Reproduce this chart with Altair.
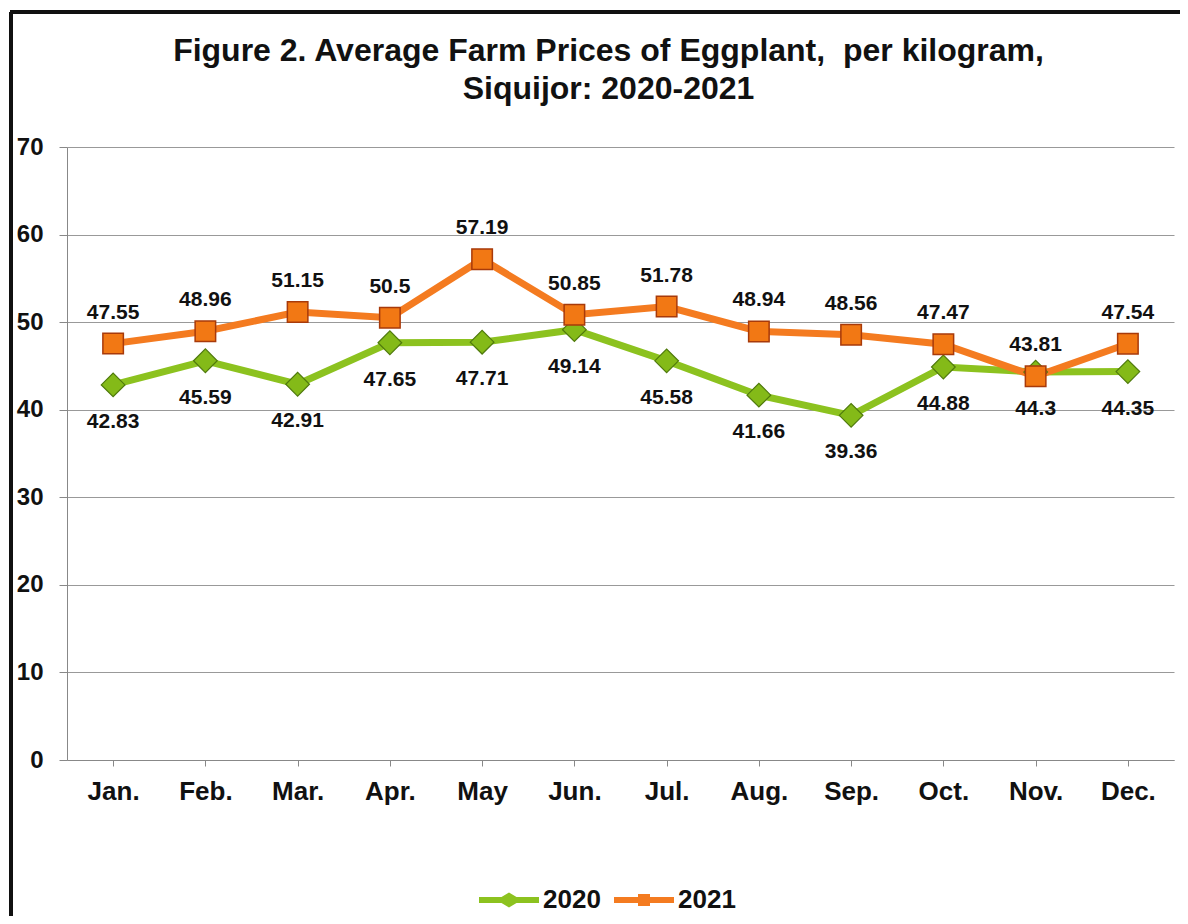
import altair as alt
import pandas as pd

months = ["Jan.", "Feb.", "Mar.", "Apr.", "May", "Jun.", "Jul.", "Aug.", "Sep.", "Oct.", "Nov.", "Dec."]
prices_2020 = [42.83, 45.59, 42.91, 47.65, 47.71, 49.14, 45.58, 41.66, 39.36, 44.88, 44.3, 44.35]
prices_2021 = [47.55, 48.96, 51.15, 50.5, 57.19, 50.85, 51.78, 48.94, 48.56, 47.47, 43.81, 47.54]
years = ["2020", "2021"]
y_ticks = [0, 10, 20, 30, 40, 50, 60, 70]

rows = []
for m, a, b in zip(months, prices_2020, prices_2021):
    rows.append({"month": m, "year": "2020", "price": a, "label": f"{a:g}"})
    rows.append({"month": m, "year": "2021", "price": b, "label": f"{b:g}"})
df = pd.DataFrame(rows)

GREEN = "#8cc21f"
ORANGE = "#f47b20"
FONT = "Liberation Sans"

x_enc = alt.X("month:N", sort=months, scale=alt.Scale(paddingInner=0, paddingOuter=0),
              axis=alt.Axis(title=None, bandPosition=0, labelFont=FONT, labelFontSize=26,
                            labelFontWeight="bold", labelColor="#111", labelAngle=0,
                            labelPadding=12, tickSize=6, tickColor="#888", domainColor="#888",
                            grid=False))
y_enc = alt.Y("price:Q", scale=alt.Scale(domain=[0, 70], nice=False),
              axis=alt.Axis(title=None, values=y_ticks, labelFont=FONT, labelFontSize=24,
                            labelFontWeight="bold", labelColor="#111", tickSize=8,
                            tickColor="#888", domainColor="#888", gridColor="#999",
                            gridWidth=1.2, labelPadding=16))

base = alt.Chart(df)
d20 = base.transform_filter(alt.datum.year == "2020")
d21 = base.transform_filter(alt.datum.year == "2021")

line20 = d20.mark_line(strokeWidth=7, color=GREEN).encode(x=x_enc, y=y_enc)
line21 = d21.mark_line(strokeWidth=7, color=ORANGE).encode(x=x_enc, y=y_enc)

pts20 = d20.mark_point(
    shape="diamond", filled=True, size=560, color="#84ba18", stroke="#4f7a0c", strokeWidth=1.2,
    opacity=1
).encode(x=x_enc, y=y_enc)
pts21 = d21.mark_point(
    shape="square", filled=True, size=420, color="#f27814", stroke="#a83a0a", strokeWidth=1.5,
    opacity=1
).encode(x=x_enc, y=y_enc)

lab20 = d20.mark_text(
    font=FONT, fontSize=21, fontWeight="bold", color="#111", dy=37, baseline="middle"
).encode(x=x_enc, y=y_enc, text="label:N")
lab21 = d21.mark_text(
    font=FONT, fontSize=21, fontWeight="bold", color="#111", dy=-31, baseline="middle"
).encode(x=x_enc, y=y_enc, text="label:N")

# legend layer: line + marker symbols
path_diamond = "M-3,-0.3 L-0.75,-0.3 L0,-0.75 L0.75,-0.3 L3,-0.3 L3,0.3 L0.75,0.3 L0,0.75 L-0.75,0.3 L-3,0.3 Z"
path_square = "M-3,-0.3 L-0.6,-0.3 L-0.6,-0.6 L0.6,-0.6 L0.6,-0.3 L3,-0.3 L3,0.3 L0.6,0.3 L0.6,0.6 L-0.6,0.6 L-0.6,0.3 L-3,0.3 Z"
leg = alt.Legend(title=None, orient="none", legendX=429, legendY=740, direction="horizontal",
                 labelFont=FONT, labelFontSize=26, labelFontWeight="bold",
                 labelColor="#111", symbolSize=400, labelOffset=21,
                 columnPadding=13, symbolOpacity=1, symbolStrokeWidth=0)
legend_layer = base.transform_filter("false").mark_point(filled=True, opacity=1).encode(
    x=x_enc, y=y_enc,
    color=alt.Color("year:N", scale=alt.Scale(domain=years, range=[GREEN, ORANGE]), legend=leg),
    shape=alt.Shape("year:N", scale=alt.Scale(domain=years, range=[path_diamond, path_square]),
                    legend=leg),
)

frame_top = alt.Chart(df).mark_rule(color="#111", strokeWidth=3).encode(
    x=alt.value(-57), x2=alt.value(1130), y=alt.value(-135))
frame_left = alt.Chart(df).mark_rule(color="#111", strokeWidth=3).encode(
    x=alt.value(-56), y=alt.value(-135), y2=alt.value(800))

chart = alt.layer(
    frame_top, frame_left, line20, line21, pts20, pts21, lab20, lab21, legend_layer
).properties(
    width=1107, height=613,
    title=alt.TitleParams(
        ["Figure 2. Average Farm Prices of Eggplant,\u00a0 per kilogram,", "Siquijor: 2020-2021"],
        font=FONT, fontSize=32, fontWeight="bold", color="#111", anchor="middle",
        lineHeight=38, offset=-95, dx=-12),
    autosize=alt.AutoSizeParams(type="none"),
    padding={"left": 59, "top": 139, "right": 6, "bottom": 156},
).configure_view(stroke=None)

chart.save("out.html", embed_options={"renderer": "svg", "actions": False})
